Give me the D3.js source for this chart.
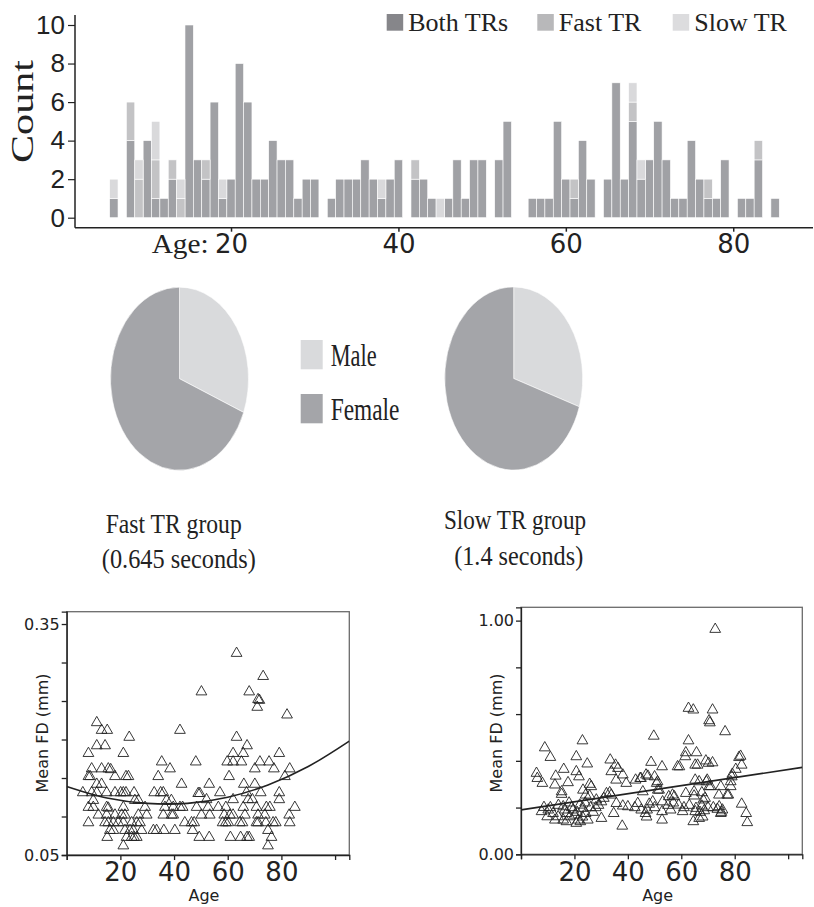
<!DOCTYPE html>
<html lang="en">
<head>
  <meta charset="UTF-8">
  <title>Age histogram, sex split and mean FD by TR group</title>
  <script src="https://d3js.org/d3.v7.min.js"></script>
  <style>
    body { margin: 0; background: #fff; }
  </style>
</head>
<body>

<div id="chart"></div>

<script>
// ---- data ----
// histogram: subjects per year of age
const histAges  = [6,7,8,9,10,11,12,13,14,15,16,17,18,19,20,21,22,23,24,25,26,27,28,29,30,31,32,33,34,35,36,37,38,39,40,41,42,43,44,45,46,47,48,49,50,51,52,53,54,55,56,57,58,59,60,61,62,63,64,65,66,67,68,69,70,71,72,73,74,75,76,77,78,79,80,81,82,83,84,85];
const bothCounts = [1,0,4,0,4,1,1,2,0,10,3,2,6,1,2,8,6,2,2,4,3,3,1,2,2,0,1,2,2,2,3,2,1,2,3,0,2,2,1,0,1,3,1,3,3,0,3,5,0,0,1,1,1,5,2,1,4,2,0,2,7,2,5,2,3,5,3,1,1,4,2,1,1,3,0,1,1,3,0,1];
const fastCounts = [0,0,2,2,0,2,0,1,1,0,0,1,0,0,0,0,0,0,0,0,0,0,0,0,0,0,0,0,0,0,0,0,0,0,0,0,1,0,0,0,0,0,0,0,0,0,0,0,0,0,0,0,0,0,0,1,0,0,0,0,0,0,1,0,0,0,0,0,0,0,0,1,0,0,0,0,0,1,0,0];
const slowCounts = [1,0,0,1,0,2,0,0,1,0,0,0,0,1,0,0,0,0,0,0,0,0,0,0,0,0,0,0,0,0,0,0,1,0,0,0,0,0,0,1,0,0,0,0,0,0,0,0,0,0,0,0,0,0,0,0,0,0,0,0,0,0,1,1,0,0,0,0,0,0,0,0,0,0,0,0,0,0,0,0];
const histKeys = ["both", "fast", "slow"];
const histLabels = ["Both TRs", "Fast TR", "Slow TR"];
const histTicksX = [20, 40, 60, 80];
const histTicksY = [0, 2, 4, 6, 8, 10];

// sex split (percent)
const sexLabels = ["Male", "Female"];
const fastSex = [31, 69];
const slowSex = [30, 70];

// mean framewise displacement against age
const fastAgeFD = [[63.3,0.312],[73.2,0.282],[50.2,0.262],[68,0.262],[71.3,0.252],[71.8,0.251],[71,0.242],[82.1,0.232],[11.2,0.222],[42.2,0.212],[13,0.212],[15.1,0.212],[23.3,0.203],[63.3,0.203],[11.2,0.192],[14.3,0.192],[67.2,0.192],[8.1,0.182],[21.1,0.182],[62,0.182],[65.8,0.182],[79.2,0.182],[35.4,0.171],[48.1,0.171],[59.8,0.171],[62,0.171],[65.1,0.171],[75.4,0.171],[72,0.171],[38.5,0.162],[9.3,0.162],[13,0.162],[15.5,0.162],[16.4,0.161],[70.1,0.162],[77.2,0.162],[83.1,0.162],[8.1,0.152],[8.7,0.152],[18,0.152],[22.1,0.152],[23,0.152],[34.1,0.152],[60.5,0.152],[81.3,0.152],[11.2,0.142],[13,0.142],[42.8,0.142],[53.1,0.142],[66,0.142],[70.1,0.142],[6,0.131],[9.3,0.131],[11.2,0.131],[14.9,0.131],[18,0.131],[20.1,0.131],[21.1,0.131],[22.1,0.131],[25.1,0.131],[32.6,0.131],[35,0.131],[36,0.131],[49,0.13],[49.6,0.13],[57.1,0.131],[67,0.131],[72.3,0.131],[79.2,0.131],[9.9,0.121],[25.4,0.121],[26.7,0.121],[37.2,0.121],[39,0.121],[52.1,0.122],[62,0.122],[67.6,0.122],[69.2,0.122],[79.2,0.122],[8.1,0.112],[9.9,0.112],[14.9,0.112],[15.5,0.111],[21.1,0.112],[29.2,0.112],[36.6,0.112],[39.7,0.112],[42.2,0.112],[43.2,0.112],[48.4,0.112],[52.7,0.112],[56.5,0.112],[59.3,0.112],[65.8,0.112],[70.7,0.112],[74.4,0.112],[75.7,0.112],[85,0.112],[11.8,0.102],[14.9,0.102],[18,0.102],[20.5,0.102],[21.7,0.102],[26.7,0.102],[29.8,0.102],[36,0.102],[39.1,0.102],[39.7,0.102],[50.2,0.102],[53.3,0.102],[58.7,0.102],[60.8,0.102],[62,0.102],[66.4,0.102],[71.3,0.102],[73.8,0.102],[82.9,0.102],[8.1,0.092],[14.3,0.092],[15.5,0.092],[17.4,0.092],[19.2,0.092],[21.1,0.092],[24.2,0.092],[26.1,0.092],[27.3,0.092],[44,0.092],[46.5,0.092],[47.5,0.092],[58.1,0.092],[59.3,0.092],[60.2,0.092],[64.5,0.092],[65.5,0.092],[70.7,0.092],[71.3,0.092],[74.2,0.092],[76.9,0.092],[77.9,0.092],[83.1,0.092],[16.1,0.082],[17.4,0.082],[21.7,0.082],[24.8,0.082],[27.9,0.082],[23.6,0.082],[32.3,0.082],[33.5,0.082],[36.2,0.082],[40.3,0.082],[46.9,0.082],[75,0.082],[15.1,0.073],[22.3,0.073],[24.2,0.073],[25.1,0.073],[26.1,0.073],[49.4,0.073],[53.1,0.073],[61,0.073],[64.8,0.073],[67.2,0.073],[68,0.073],[76.3,0.073],[21.1,0.062],[75,0.062]];
const slowAgeFD = [[72.7,0.963],[62.7,0.625],[64.5,0.618],[71.7,0.618],[70.4,0.572],[70.7,0.563],[76.4,0.525],[49.7,0.506],[23,0.486],[62.7,0.486],[8.9,0.456],[11,0.415],[20.7,0.418],[61.7,0.435],[65.7,0.435],[61.5,0.418],[82.2,0.42],[81.6,0.415],[33.4,0.404],[48.7,0.394],[24.8,0.387],[35.4,0.382],[36.3,0.368],[65.2,0.382],[66.1,0.382],[69.2,0.4],[70.2,0.39],[71.7,0.392],[58.6,0.375],[59.3,0.375],[52.8,0.375],[82.6,0.382],[16,0.364],[33.8,0.354],[20.7,0.354],[21.7,0.332],[5.8,0.347],[6.1,0.325],[13,0.335],[47.5,0.335],[50,0.332],[80.4,0.364],[78.9,0.332],[38.1,0.34],[42.9,0.318],[44.6,0.325],[8,0.304],[17.6,0.307],[12.7,0.297],[39.4,0.304],[25.7,0.3],[26.3,0.29],[35.6,0.318],[50.8,0.304],[65.2,0.318],[66.7,0.311],[69.4,0.311],[70.4,0.29],[74.8,0.29],[78.5,0.311],[15.2,0.268],[15.2,0.257],[33.2,0.264],[33.8,0.254],[45.6,0.268],[51.2,0.275],[55.3,0.247],[57.4,0.247],[61.7,0.261],[64.8,0.25],[67.7,0.264],[68.9,0.24],[68.2,0.233],[77.6,0.254],[23.2,0.275],[24.2,0.254],[25.7,0.25],[28.2,0.233],[30.1,0.225],[35.7,0.218],[38.1,0.207],[40,0.204],[43.7,0.218],[48,0.215],[49.3,0.225],[53,0.225],[59,0.211],[60.5,0.183],[65.5,0.197],[65.2,0.183],[67.7,0.207],[68.6,0.187],[74.2,0.204],[75.4,0.19],[82.6,0.215],[8.6,0.201],[10.2,0.19],[7.7,0.183],[9.8,0.161],[12,0.175],[13.9,0.161],[12.7,0.147],[15.8,0.204],[16.4,0.19],[17,0.175],[18.3,0.161],[15.8,0.147],[19.5,0.19],[20.1,0.168],[21.4,0.147],[20.7,0.133],[22,0.211],[23.2,0.197],[24.2,0.175],[22.2,0.14],[25,0.147],[30.1,0.154],[34.7,0.175],[37.9,0.121],[46.6,0.175],[52.8,0.147],[52.8,0.183],[64.5,0.14],[66.7,0.154],[74.8,0.175],[73.5,0.193],[84.3,0.175],[84.7,0.136],[18,0.22],[19,0.2],[21,0.18],[23,0.16],[26,0.2],[27,0.18],[28,0.2],[14,0.21],[11,0.2],[17,0.14],[24,0.22],[29,0.21],[31,0.24],[32,0.26],[44.9,0.325],[46.8,0.34],[51.1,0.311],[51.7,0.275],[56.7,0.254],[64.8,0.268],[69.7,0.318],[71,0.29],[74.1,0.254],[77.2,0.254],[78.5,0.29],[79.1,0.343],[42.6,0.2],[45,0.19],[47.2,0.19],[50,0.2],[55,0.21],[57,0.22],[61,0.2],[63,0.21],[67,0.18],[70,0.2],[72,0.2],[47,0.16],[56,0.19],[68,0.16],[75,0.18]];

// fitted trend lines, read at a few ages
const fastFitAges = [0, 15, 30, 45, 60, 75, 90, 105.3];
const fastFitFD   = [0.139, 0.124, 0.117, 0.117, 0.125, 0.141, 0.165, 0.198];
const slowFitAges = [0, 105.3];
const slowFitFD   = [0.19, 0.372];

const scatterTicksX = [0, 20, 40, 60, 80, 100];

// ---- drawing ----
const width = 814, height = 907;
const serif = "'Liberation Serif', 'Times New Roman', serif";
const sans = "'DejaVu Sans', Arial, sans-serif";

const svg = d3.select("#chart").append("svg")
  .attr("width", width)
  .attr("height", height);

// ===== histogram =====
const histColor = d3.scaleOrdinal().domain(histKeys).range(["#a0a1a5", "#c3c3c5", "#d9d9db"]);
const legendColor = d3.scaleOrdinal().domain(histKeys).range(["#86868a", "#b8b8ba", "#dcdcde"]);

const hx = d3.scaleLinear().domain([1.36, 89.53]).range([75, 813]);
const hy = d3.scaleLinear().domain([0, 10]).range([217.7, 25]);

const histRows = histAges.map((a, i) => ({ age: a, both: bothCounts[i], fast: fastCounts[i], slow: slowCounts[i] }));
const stacked = d3.stack().keys(histKeys)(histRows);

const hist = svg.append("g");
hist.selectAll("g.layer")
  .data(stacked)
  .enter().append("g")
  .attr("fill", d => histColor(d.key))
  .selectAll("rect")
  .data(d => d.filter(s => s[1] > s[0]))
  .enter().append("rect")
  .attr("x", d => hx(d.data.age - 0.5))
  .attr("width", d => hx(d.data.age + 0.5) - hx(d.data.age - 0.5))
  .attr("y", d => hy(d[1]))
  .attr("height", d => hy(d[0]) - hy(d[1]))
  .attr("stroke", "#fff")
  .attr("stroke-width", 0.6);

// axes (lines sit a little off the data like the original)
const xAxisY = 227.7;
hist.append("g")
  .attr("transform", `translate(0,${xAxisY})`)
  .call(d3.axisBottom(hx).tickValues(histTicksX).tickSize(4).tickPadding(3))
  .call(g => g.select(".domain").remove())
  .call(g => g.selectAll("text").attr("font-family", sans).attr("font-size", 26).attr("fill", "#222"))
  .call(g => g.selectAll("line").attr("stroke", "#222").attr("stroke-width", 1.5));
hist.append("line")
  .attr("x1", hx.range()[0]).attr("x2", hx.range()[1])
  .attr("y1", xAxisY).attr("y2", xAxisY)
  .attr("stroke", "#222").attr("stroke-width", 1.5);

hist.append("g")
  .attr("transform", `translate(75,0)`)
  .call(d3.axisLeft(hy).tickValues(histTicksY).tickSize(7).tickPadding(3))
  .call(g => g.select(".domain").remove())
  .call(g => g.selectAll("text").attr("font-family", "'Liberation Sans', Arial, sans-serif").attr("font-size", 26).attr("fill", "#222"))
  .call(g => g.selectAll("line").attr("stroke", "#222").attr("stroke-width", 1.2));
hist.append("line")
  .attr("x1", 75).attr("x2", 75)
  .attr("y1", 15).attr("y2", xAxisY)
  .attr("stroke", "#222").attr("stroke-width", 1.5);

hist.append("text")
  .attr("transform", "translate(33,111.5) rotate(-90)")
  .attr("text-anchor", "middle")
  .attr("font-family", serif).attr("font-size", 32)
  .attr("textLength", 103).attr("lengthAdjust", "spacingAndGlyphs")
  .attr("fill", "#222")
  .text("Count");

hist.append("text")
  .attr("x", 151.7).attr("y", 253.3)
  .attr("font-family", serif).attr("font-size", 27)
  .attr("textLength", 57).attr("lengthAdjust", "spacingAndGlyphs")
  .attr("fill", "#222")
  .text("Age:");

// legend
const legX = [386.7, 537.3, 672.7];
const leg = hist.selectAll("g.leg")
  .data(histKeys)
  .enter().append("g")
  .attr("transform", (d, i) => `translate(${legX[i]},14)`);
leg.append("rect").attr("width", 16.5).attr("height", 16.7).attr("fill", d => legendColor(d));
leg.append("text")
  .attr("x", 21.5).attr("y", 16.7)
  .attr("font-family", serif).attr("font-size", 26).attr("fill", "#222")
  .text((d, i) => histLabels[i]);

// ===== pies =====
const sexColor = d3.scaleOrdinal().domain(sexLabels).range(["#d9dadc", "#a4a5a9"]);
const pie = d3.pie().sort(null).value(d => d.value);
const arc = d3.arc().innerRadius(0).outerRadius(69);

function drawPie(values, cx, cy, sy) {
  const g = svg.append("g").attr("transform", `translate(${cx},${cy}) scale(1,${sy})`);
  g.selectAll("path")
    .data(pie(values.map((v, i) => ({ label: sexLabels[i], value: v }))))
    .enter().append("path")
    .attr("d", arc)
    .attr("fill", d => sexColor(d.data.label))
    .attr("stroke", "#fff")
    .attr("stroke-width", 0.5);
}
drawPie(fastSex, 179.5, 378.7, 1.327);
drawPie(slowSex, 513.7, 378.5, 1.327);

const sexLeg = svg.selectAll("g.sexleg")
  .data(sexLabels)
  .enter().append("g")
  .attr("transform", (d, i) => `translate(300.7,${340 + i * 54})`);
sexLeg.append("rect").attr("width", 22).attr("height", 29.3).attr("fill", d => sexColor(d));
sexLeg.append("text")
  .attr("x", 30).attr("y", 26)
  .attr("font-family", serif).attr("font-size", 31).attr("fill", "#222")
  .attr("textLength", (d, i) => [46, 68.7][i]).attr("lengthAdjust", "spacingAndGlyphs")
  .text(d => d);

// group captions
const captions = [
  { text: "Fast TR group", x: 173.7, y: 533, len: 136 },
  { text: "(0.645 seconds)", x: 178.8, y: 568, len: 154 },
  { text: "Slow TR group", x: 515, y: 529.3, len: 142 },
  { text: "(1.4 seconds)", x: 518.7, y: 565, len: 129 }
];
svg.selectAll("text.caption")
  .data(captions)
  .enter().append("text")
  .attr("class", "caption")
  .attr("x", d => d.x).attr("y", d => d.y)
  .attr("text-anchor", "middle")
  .attr("font-family", serif).attr("font-size", 28).attr("fill", "#222")
  .attr("textLength", d => d.len).attr("lengthAdjust", "spacingAndGlyphs")
  .text(d => d.text);

// ===== scatter plots =====
function drawScatter(opts) {
  const x = d3.scaleLinear().domain([0, 105.3]).range([opts.left, opts.right]);
  const y = d3.scaleLinear().domain(opts.yDomain).range([opts.bottom, opts.top]);
  const g = svg.append("g");

  const clipId = "clip" + Math.round(opts.left);
  g.append("clipPath").attr("id", clipId)
    .append("rect")
    .attr("x", opts.left).attr("y", opts.top)
    .attr("width", opts.right - opts.left).attr("height", opts.bottom - opts.top);

  g.append("rect")
    .attr("x", opts.left).attr("y", opts.top)
    .attr("width", opts.right - opts.left).attr("height", opts.bottom - opts.top)
    .attr("fill", "none").attr("stroke", "#6b6b6b").attr("stroke-width", 1.3);

  // triangles
  const tri = d3.symbol().type(d3.symbolTriangle).size(50);
  g.append("g")
    .selectAll("path")
    .data(opts.points)
    .enter().append("path")
    .attr("transform", d => `translate(${x(d[0])},${y(d[1])})`)
    .attr("d", tri)
    .attr("fill", "none")
    .attr("stroke", "#222")
    .attr("stroke-width", 0.9);

  // fit line
  const line = d3.line().x(d => x(d[0])).y(d => y(d[1])).curve(d3.curveCatmullRom);
  g.append("path")
    .datum(opts.fitAges.map((a, i) => [a, opts.fitFD[i]]))
    .attr("clip-path", `url(#${clipId})`)
    .attr("d", line)
    .attr("fill", "none")
    .attr("stroke", "#222")
    .attr("stroke-width", 1.6);

  // axes
  g.append("g")
    .attr("transform", `translate(0,${opts.bottom})`)
    .call(d3.axisBottom(x).tickValues(scatterTicksX).tickSize(5).tickPadding(3)
      .tickFormat(d => (d > 0 && d < 100) ? d : ""))
    .call(a => a.select(".domain").attr("stroke", "#222").attr("stroke-width", 1.3))
    .call(a => a.selectAll("line").attr("stroke", "#222").attr("stroke-width", 1.3))
    .call(a => a.selectAll("text").attr("font-family", sans).attr("font-size", 26).attr("fill", "#222"));

  const yFmt = d3.format(".2f");
  g.append("g")
    .attr("transform", `translate(${opts.left},0)`)
    .call(d3.axisLeft(y).tickValues(opts.yTicks).tickSize(5).tickPadding(2)
      .tickFormat(d => opts.yLabelled.includes(d) ? yFmt(d) : ""))
    .call(a => a.select(".domain").attr("stroke", "#222").attr("stroke-width", 1.3))
    .call(a => a.selectAll("line").attr("stroke", "#222").attr("stroke-width", 1.3))
    .call(a => a.selectAll("text").attr("font-family", sans).attr("font-size", 16).attr("fill", "#222"));

  g.append("text")
    .attr("x", (opts.left + opts.right) / 2 - 4).attr("y", 901)
    .attr("text-anchor", "middle")
    .attr("font-family", sans).attr("font-size", 16).attr("fill", "#222")
    .text("Age");

  g.append("text")
    .attr("transform", `translate(${opts.left - 19},733) rotate(-90)`)
    .attr("text-anchor", "middle")
    .attr("font-family", sans).attr("font-size", 16).attr("fill", "#222")
    .text("Mean FD (mm)");
}

drawScatter({
  left: 66.7, right: 349.3, top: 611.7, bottom: 855,
  yDomain: [0.05, 0.366],
  yTicks: [0.05, 0.10, 0.15, 0.20, 0.25, 0.30, 0.35],
  yLabelled: [0.05, 0.35],
  points: fastAgeFD,
  fitAges: fastFitAges, fitFD: fastFitFD
});

drawScatter({
  left: 521, right: 802.3, top: 607.3, bottom: 854.3,
  yDomain: [0, 1.057],
  yTicks: [0, 0.2, 0.4, 0.6, 0.8, 1.0],
  yLabelled: [0, 1],
  points: slowAgeFD,
  fitAges: slowFitAges, fitFD: slowFitFD
});
</script>

</body>
</html>
